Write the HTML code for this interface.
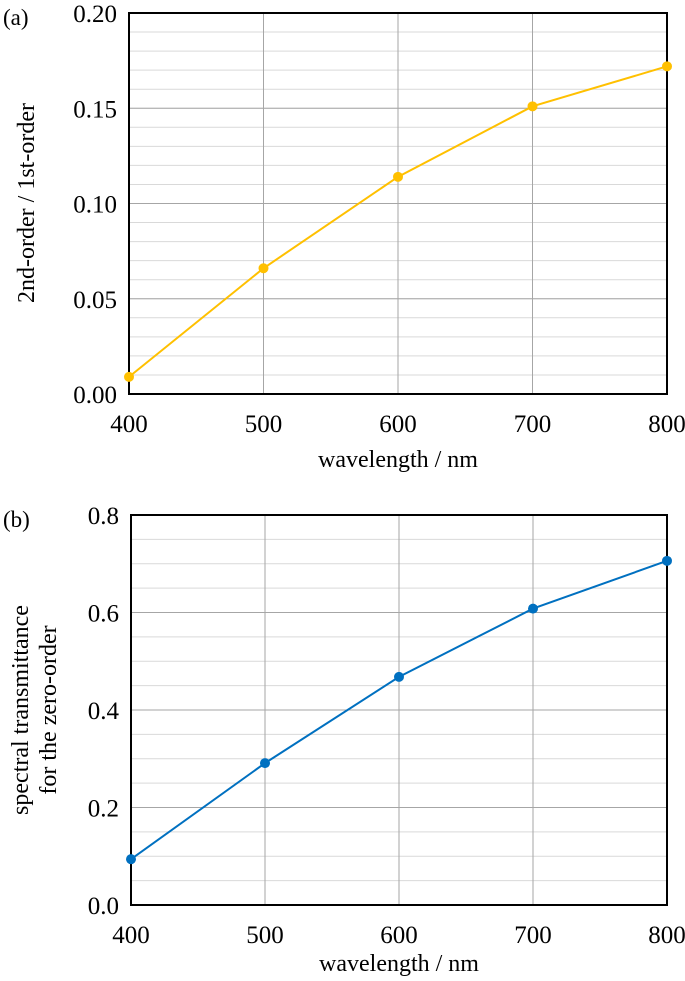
<!DOCTYPE html>
<html><head><meta charset="utf-8"><style>
html,body{margin:0;padding:0;background:#fff;}
svg{display:block;font-family:"Liberation Serif",serif;}
</style></head><body>
<svg id="s" width="685" height="981" xmlns="http://www.w3.org/2000/svg"></svg>
<script>
const wavelengths=[400,500,600,700,800];
const ratioValues=[0.009,0.066,0.114,0.151,0.172];
const transValues=[0.094,0.291,0.468,0.608,0.706];
const xTicks=[400,500,600,700,800];
const aTicks=["0.00","0.05","0.10","0.15","0.20"];
const bTicks=["0.0","0.2","0.4","0.6","0.8"];
const NS="http://www.w3.org/2000/svg";
const svg=document.getElementById('s');
function el(t,a,p){const e=document.createElementNS(NS,t);for(const k in a)e.setAttribute(k,a[k]);(p||svg).appendChild(e);return e;}
function panel(cfg){
  const g=el('g',{});
  
  
  const X=v=>cfg.x0+(v-400)/400*(cfg.x1-cfg.x0);
  const Y=v=>cfg.y0-(v/cfg.ymax)*(cfg.y0-cfg.y1);
  for(let v=cfg.minor;v<cfg.ymax-1e-9;v+=cfg.minor){
    const l=el('line',{x1:cfg.x0,x2:cfg.x1,y1:Y(v),y2:Y(v),stroke:'#d9d9d9','stroke-width':1},g);
    
  }
  cfg.ticks.forEach((t,i)=>{const v=parseFloat(t);
    const l=el('line',{x1:cfg.x0,x2:cfg.x1,y1:Y(v),y2:Y(v),stroke:'#a6a6a6','stroke-width':1},g);
    
    const tx=el('text',{x:cfg.x0-12,y:Y(v)+9,'text-anchor':'end','font-size':25},g);tx.textContent=t;
    
  });
  xTicks.forEach(v=>{
    const l=el('line',{x1:X(v),x2:X(v),y1:cfg.y1,y2:cfg.y0,stroke:'#a6a6a6','stroke-width':1},g);
    
    const tx=el('text',{x:X(v),y:cfg.y0+38,'text-anchor':'middle','font-size':25},g);tx.textContent=v;
    
  });
  const fr=el('rect',{x:cfg.x0,y:cfg.y1,width:cfg.x1-cfg.x0,height:cfg.y0-cfg.y1,fill:'none',stroke:'#000','stroke-width':2},g);
  
  const pts=wavelengths.map((w,i)=>X(w)+','+Y(cfg.data[i])).join(' ');
  const pl=el('polyline',{points:pts,fill:'none',stroke:cfg.color,'stroke-width':2},g);
  
  wavelengths.forEach((w,i)=>{
    const c=el('circle',{cx:X(w),cy:Y(cfg.data[i]),r:5,fill:cfg.color},g);
    
  });
  const xt=el('text',{x:(cfg.x0+cfg.x1)/2,y:cfg.y0+cfg.titleOff,'text-anchor':'middle','font-size':24},g);
  xt.textContent='wavelength / nm';
  
  const lab=el('text',{x:3,y:cfg.y1+12,'font-size':23},g);lab.textContent=cfg.label;
  
  return g;
}
panel({name:'panel-a',x0:129,x1:667,y0:394,y1:13,ymax:0.2,minor:0.01,ticks:aTicks,data:ratioValues,color:'#ffc000',label:'(a)',titleOff:73});
const ya=el('text',{transform:'translate(34,203) rotate(-90)','text-anchor':'middle','font-size':24});
ya.textContent='2nd-order / 1st-order';

panel({name:'panel-b',x0:131,x1:667,y0:905,y1:515,ymax:0.8,minor:0.05,ticks:bTicks,data:transValues,color:'#0070c0',label:'(b)',titleOff:66});
const yb=el('text',{transform:'translate(28,710) rotate(-90)','text-anchor':'middle','font-size':24});
yb.textContent='spectral transmittance';

const yb2=el('text',{transform:'translate(56,710) rotate(-90)','text-anchor':'middle','font-size':24});
yb2.textContent='for the zero-order';

</script>
</body></html>
